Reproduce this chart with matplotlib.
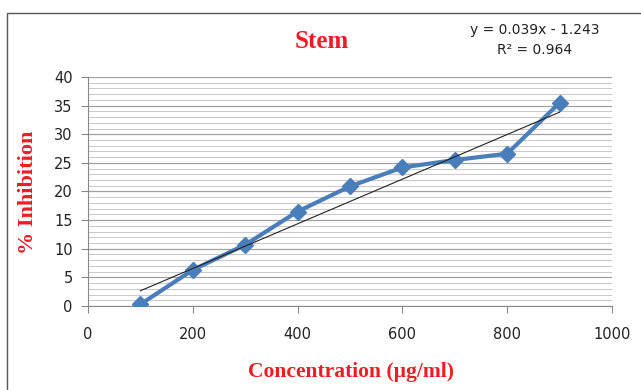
import matplotlib
matplotlib.use('Agg')
import matplotlib.pyplot as plt
import numpy as np
from matplotlib.patches import Rectangle
from matplotlib.ticker import MultipleLocator

conc = [100, 200, 300, 400, 500, 600, 700, 800, 900]
inhibition = [0.3, 6.3, 10.7, 16.5, 20.9, 24.2, 25.5, 26.6, 35.5]
slope = 0.039
intercept = -1.243
r2 = 0.964

fig = plt.figure(figsize=(6.41, 3.90), dpi=100)
ax = fig.add_axes([0.1373, 0.2154, 0.8175, 0.5872])

# outer chart border (right and bottom edges run off the picture)
fig.patches.append(Rectangle((7/641, -0.05), 1.0, 1.05 - 13/390, transform=fig.transFigure,
                             fill=False, edgecolor='#555555', linewidth=1.0))

ax.plot(conc, inhibition, color='#4a7ebb', linewidth=3, marker='D', markersize=8,
        zorder=3)
xt = np.array([conc[0], conc[-1]])
ax.plot(xt, slope * xt + intercept, color='#222222', linewidth=0.8, zorder=4)

ax.set_xlim(0, 1000)
ax.set_ylim(0, 40)
ax.xaxis.set_major_locator(MultipleLocator(200))
ax.yaxis.set_major_locator(MultipleLocator(5))
ax.yaxis.set_minor_locator(MultipleLocator(1))
ax.grid(True, which='major', axis='y', color='#a0a0a0', linewidth=0.9)
ax.grid(True, which='minor', axis='y', color='#c8c8c8', linewidth=0.7)
ax.set_axisbelow(True)
for s in ['top', 'right']:
    ax.spines[s].set_visible(False)
ax.spines['left'].set_color('#888888')
ax.spines['bottom'].set_color('#888888')
ax.tick_params(which='major', direction='out', length=5, color='#888888',
               labelsize=10.5, labelcolor='#222222', pad=6)
ax.tick_params(which='minor', length=0)
ax.tick_params(axis='x', pad=10)

serif = {'family': 'Liberation Serif', 'weight': 'bold', 'color': '#ee1c24'}
fig.text(322/641, 1 - 42/390, 'Stem', ha='center', va='center', fontsize=18, **serif)
fig.text(351/641, 1 - 372/390, 'Concentration (µg/ml)', ha='center', va='center',
         fontsize=15.5, **serif)
fig.text(28/641, 1 - 192/390, '% Inhibition', ha='center', va='center',
         rotation=90, fontsize=16, **serif)

fig.text(535/641, 1 - 30/390, 'y = %.3fx - %.3f' % (slope, -intercept), ha='center',
         va='center', fontsize=10, color='#222222', family='Liberation Sans Narrow')
fig.text(535/641, 1 - 50/390, 'R² = %.3f' % r2, ha='center', va='center',
         fontsize=10, color='#222222', family='Liberation Sans Narrow')

fig.savefig('out.png', dpi=100)
